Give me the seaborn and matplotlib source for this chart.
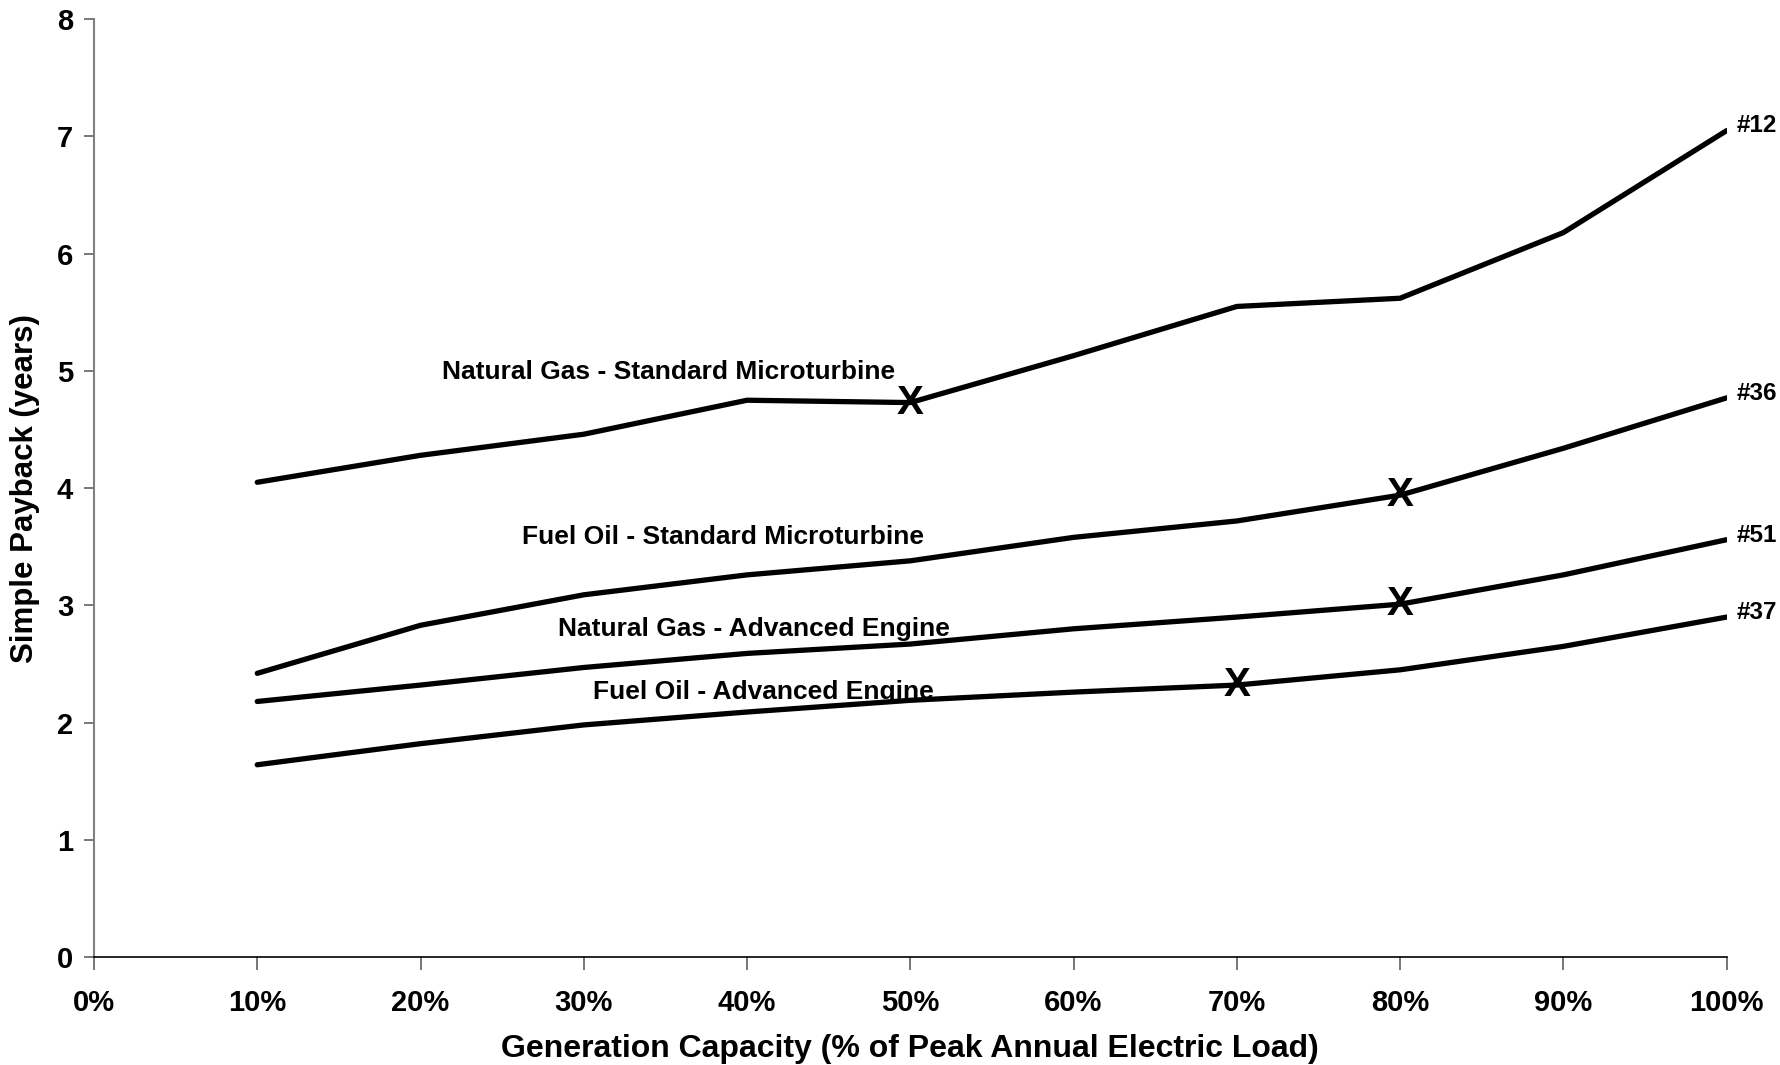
import numpy as np
import pandas as pd
import matplotlib
matplotlib.use("Agg")
import matplotlib.pyplot as plt
import seaborn as sns

# generation capacity (% of peak annual electric load)
capacity = [10, 20, 30, 40, 50, 60, 70, 80, 90, 100]

ng_micro = [4.05, 4.28, 4.46, 4.75, 4.73, 5.13, 5.55, 5.62, 6.18, 7.05]
fo_micro = [2.42, 2.83, 3.09, 3.26, 3.38, 3.58, 3.72, 3.94, 4.34, 4.77]
ng_engine = [2.18, 2.32, 2.47, 2.59, 2.67, 2.80, 2.90, 3.01, 3.26, 3.56]
fo_engine = [1.64, 1.82, 1.98, 2.09, 2.19, 2.26, 2.32, 2.45, 2.65, 2.90]

series_names = ["Natural Gas - Standard Microturbine", "Fuel Oil - Standard Microturbine",
                "Natural Gas - Advanced Engine", "Fuel Oil - Advanced Engine"]
end_tags = ["#12", "#36", "#51", "#37"]
# capacity where the "X" mark sits on each curve
x_mark = [50, 80, 80, 70]

# label centres (data coords)
label_x = [35.2, 38.5, 40.4, 41.0]
label_y = [4.99, 3.58, 2.80, 2.26]

df = pd.DataFrame({
    "capacity": capacity * 4,
    "payback": ng_micro + fo_micro + ng_engine + fo_engine,
    "series": np.repeat(series_names, len(capacity)),
})

sns.set_theme(style="white")
plt.rcParams['font.family'] = ['Liberation Sans', 'DejaVu Sans']
plt.rcParams['font.weight'] = 'bold'
plt.rcParams['text.color'] = 'black'
plt.rcParams['axes.labelcolor'] = 'black'
plt.rcParams['xtick.color'] = 'black'
plt.rcParams['ytick.color'] = 'black'

fig = plt.figure(figsize=(17.8, 10.65), dpi=100)
ax = fig.add_axes([0.0528, 0.1014, 0.9172, 0.8805])

sns.lineplot(data=df, x="capacity", y="payback", hue="series", ax=ax,
             palette=["black"] * 4, linewidth=3.8, legend=False, sort=False)

for name, xm, lx, ly, tag in zip(series_names, x_mark, label_x, label_y, end_tags):
    vals = df[df["series"] == name].set_index("capacity")["payback"]
    ax.text(xm, vals[xm], "X", ha="center", va="center", fontsize=29,
            fontweight="bold", color="black")
    ax.text(lx, ly, name, ha="center", va="center", fontsize=19,
            fontweight="bold", color="black")
    ax.text(100.6, vals[100] + 0.04, tag, ha="left", va="center",
            fontsize=17.5, fontweight="bold", color="black")

ax.set_xlim(0, 100)
ax.set_ylim(0, 8)
ax.set_xticks(range(0, 101, 10))
ax.set_xticklabels([f"{v}%" for v in range(0, 101, 10)])
ax.set_yticks(range(0, 9))

for s in ["top", "right"]:
    ax.spines[s].set_visible(False)
ax.spines["left"].set_color("#808080")
ax.spines["left"].set_linewidth(1.5)
ax.spines["bottom"].set_color("black")
ax.spines["bottom"].set_linewidth(1.2)

ax.tick_params(axis="x", direction="out", length=9, width=1.2, color="#606060",
               labelcolor="black", labelsize=21, pad=14, bottom=True)
ax.tick_params(axis="y", direction="out", length=7, width=1.2, color="#606060",
               labelcolor="black", labelsize=21, pad=8, left=True)
for lab in ax.get_xticklabels() + ax.get_yticklabels():
    lab.set_fontweight("bold")

ax.set_xlabel("Generation Capacity (% of Peak Annual Electric Load)", fontsize=23,
              fontweight="bold", labelpad=12)
ax.set_ylabel("Simple Payback (years)", fontsize=22.5, fontweight="bold", labelpad=12)

fig.savefig("out.png", dpi=100)
